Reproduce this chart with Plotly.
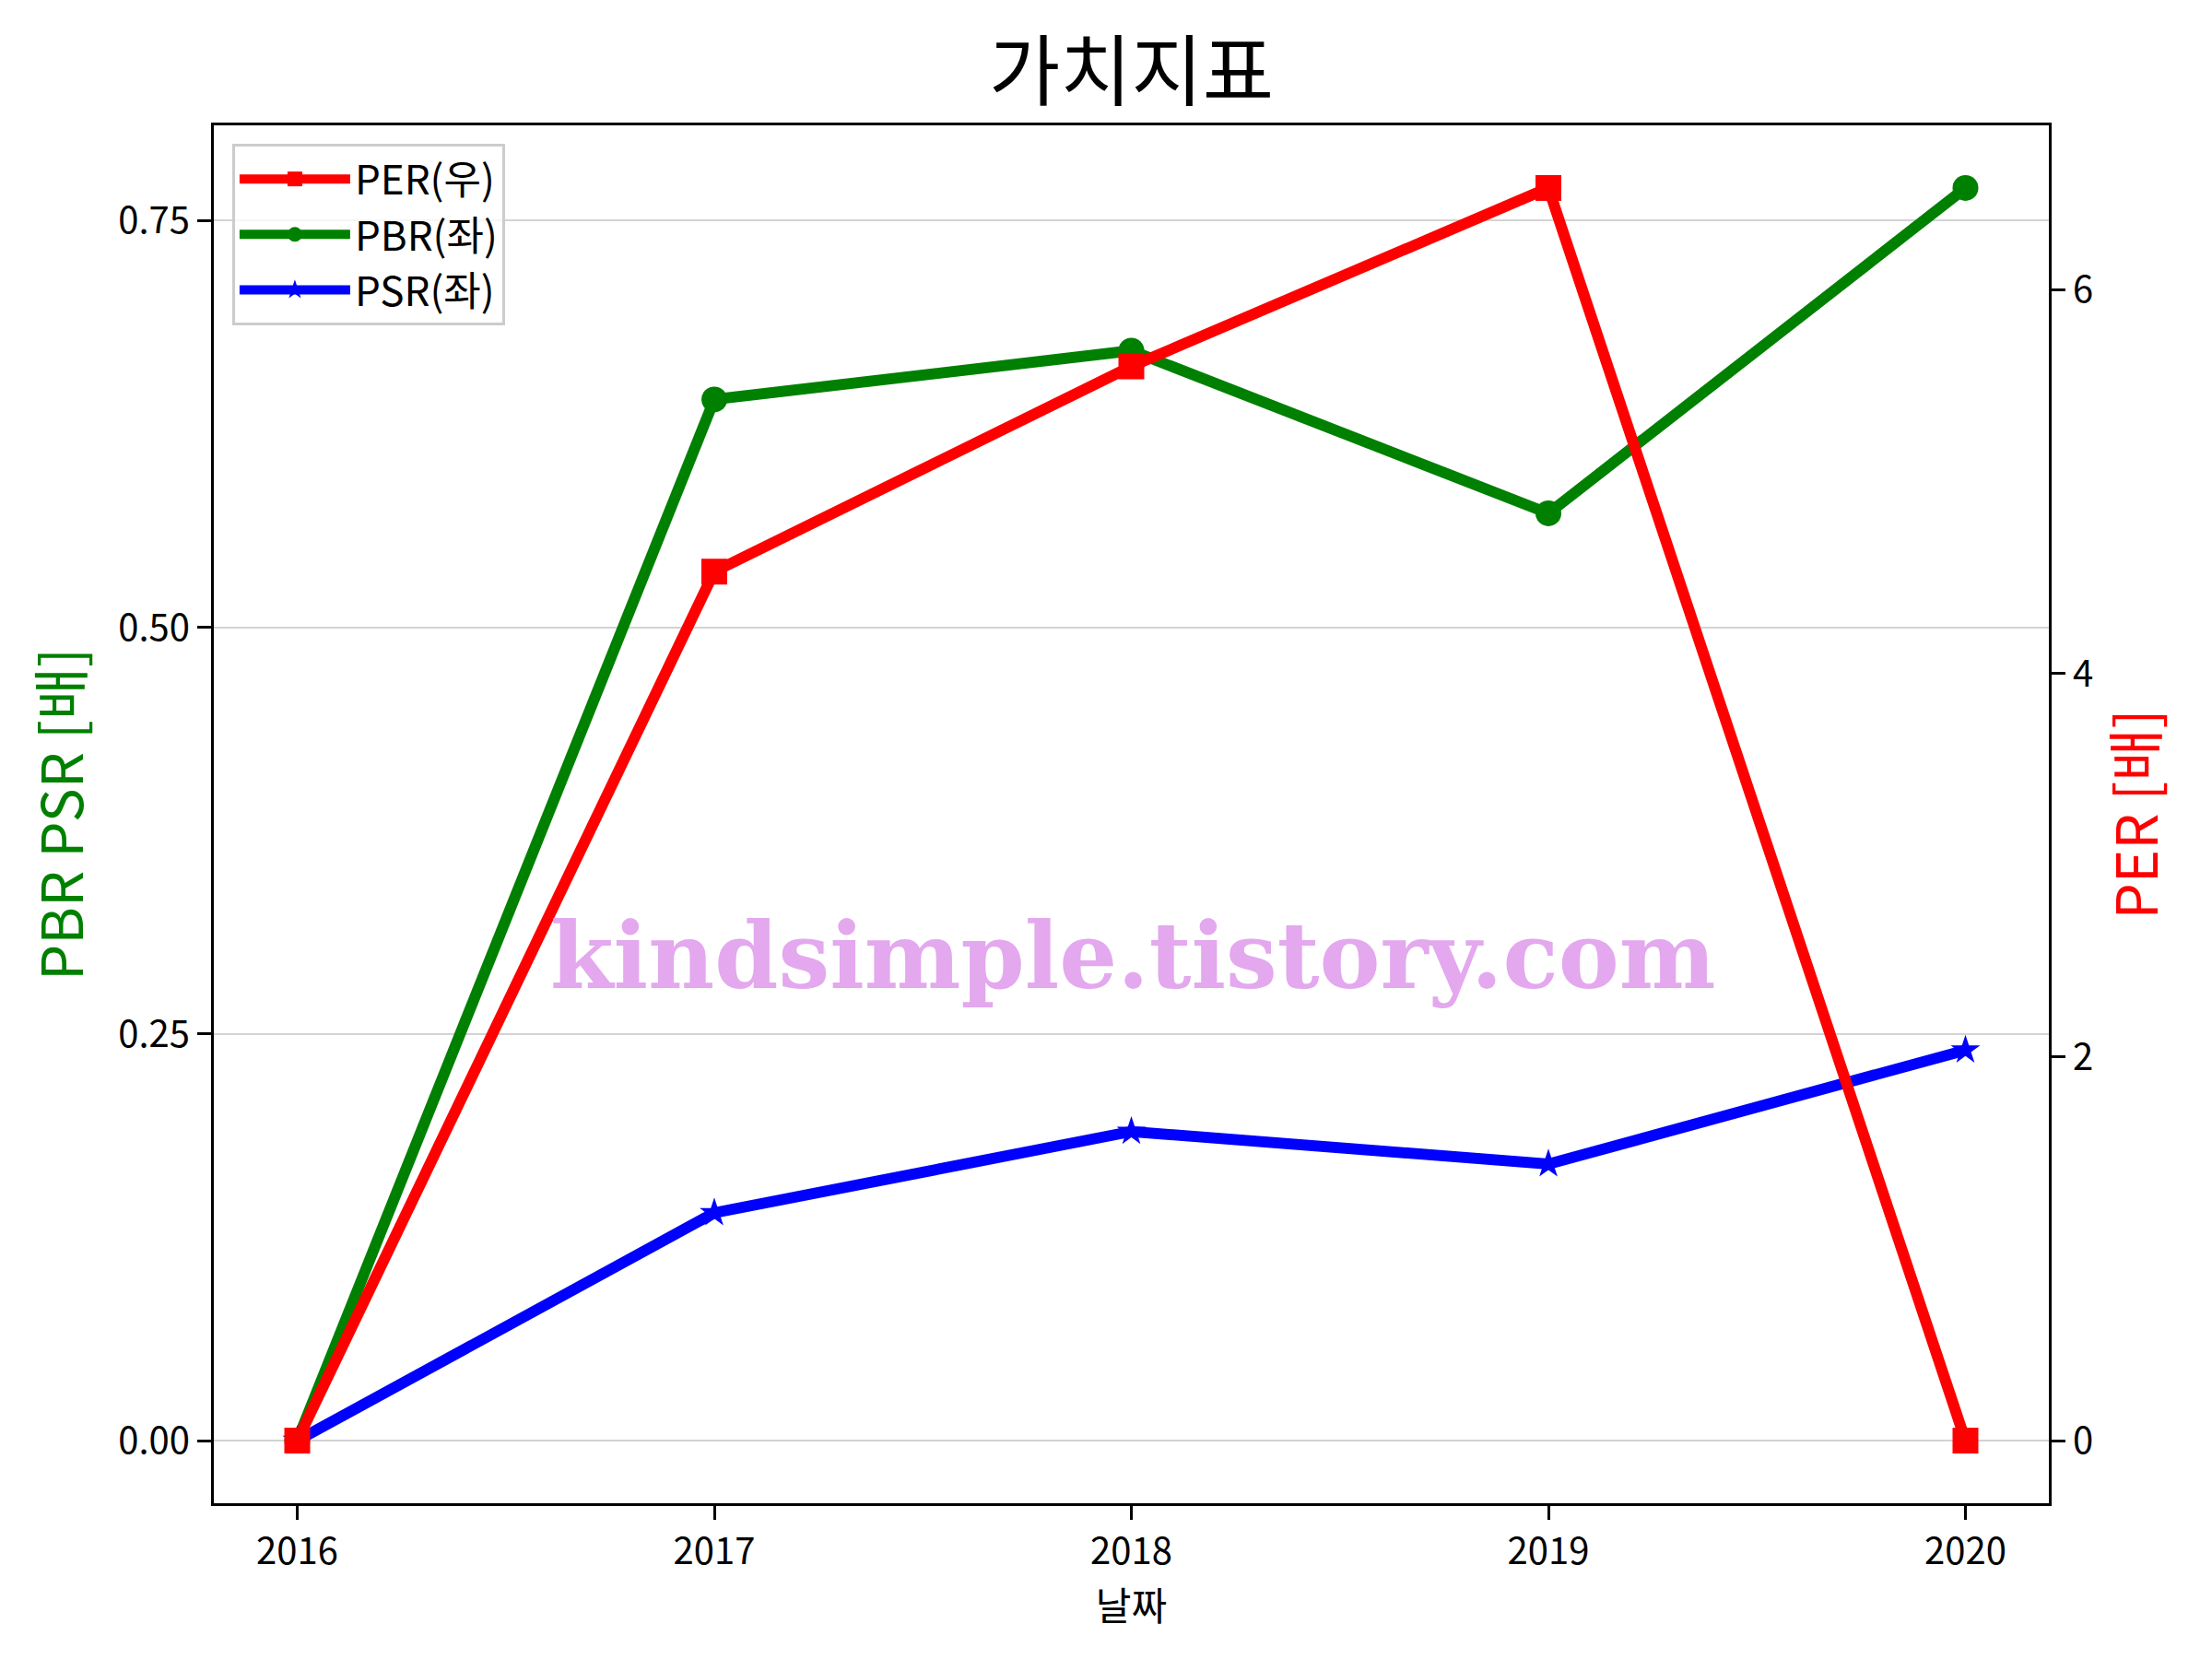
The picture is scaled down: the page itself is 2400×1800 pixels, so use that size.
import plotly.graph_objects as go

# 연도 / 가치지표 데이터
years = [2016, 2017, 2018, 2019, 2020]
per = [0.0, 4.53, 5.6, 6.53, 0.0]
pbr = [0.0, 0.64, 0.67, 0.57, 0.77]
psr = [0.0, 0.14, 0.19, 0.17, 0.24]

left_ticks = [0.0, 0.25, 0.5, 0.75]
right_ticks = [0, 2, 4, 6]

FONT = "Noto Sans CJK KR"
W, H = 2392, 1792  # 페이지 body 여백(8px) 보정

fig = go.Figure()

# PER 은 오른쪽 축 (좌축 위에 그려짐)
fig.add_trace(go.Scatter(
    x=years, y=per, name="PER(우)", mode="lines+markers", yaxis="y2",
    line=dict(color="#ff0000", width=12),
    marker=dict(symbol="square", size=28, color="#ff0000"),
))
fig.add_trace(go.Scatter(
    x=years, y=pbr, name="PBR(좌)", mode="lines+markers",
    line=dict(color="#008000", width=12),
    marker=dict(symbol="circle", size=28, color="#008000"),
))
fig.add_trace(go.Scatter(
    x=years, y=psr, name="PSR(좌)", mode="lines+markers",
    line=dict(color="#0000ff", width=12),
    marker=dict(symbol="star", size=24, color="#0000ff"),
))

ymax_l = max(pbr + psr)
ymax_r = max(per)

fig.update_layout(
    width=W, height=H,
    margin=dict(l=224, r=177, t=128, b=169),
    paper_bgcolor="white", plot_bgcolor="white",
    font=dict(family=FONT, size=40, color="black"),
    title=dict(text="가치지표", x=0.5, xref="paper", xanchor="center",
               y=1 - 71 / H, yanchor="middle",
               font=dict(family=FONT, size=84, color="black")),
    showlegend=True,
    legend=dict(x=0.01, y=0.9866, xanchor="left", yanchor="top",
                bgcolor="rgba(255,255,255,0.8)", bordercolor="#cccccc",
                borderwidth=3, font=dict(family=FONT, size=44),
                itemwidth=120, traceorder="normal"),
    xaxis=dict(
        range=[2015.8, 2020.2], tickvals=years, ticktext=[str(y) for y in years],
        showgrid=False, zeroline=False,
        showline=True, linecolor="black", linewidth=3, mirror=True,
        ticks="outside", ticklen=15, tickwidth=3, tickcolor="black",
        ticklabelstandoff=0,
        title=dict(text="날짜", font=dict(family=FONT, size=42), standoff=3),
    ),
    yaxis=dict(
        range=[-0.05 * ymax_l, 1.05 * ymax_l], tickvals=left_ticks,
        tickformat=".2f",
        showgrid=True, gridcolor="#d3d3d3", gridwidth=2, zeroline=False,
        showline=True, linecolor="black", linewidth=3,
        ticks="outside", ticklen=15, tickwidth=3, tickcolor="black",
        title=dict(text="PBR PSR [배]", font=dict(family=FONT, size=62, color="#008000"),
                   standoff=18),
    ),
    yaxis2=dict(
        range=[-0.05 * ymax_r, 1.05 * ymax_r], tickvals=right_ticks,
        overlaying="y", side="right",
        showgrid=False, zeroline=False,
        showline=True, linecolor="black", linewidth=3,
        ticks="outside", ticklen=15, tickwidth=3, tickcolor="black",
        title=dict(text="PER [배]", font=dict(family=FONT, size=62, color="#ff0000"),
                   standoff=28),
    ),
)

# 워터마크
fig.add_annotation(
    text="<b>kindsimple.tistory.com</b>", xref="paper", yref="paper",
    x=0.501, y=0.397, xanchor="center", yanchor="middle", showarrow=False,
    font=dict(family="DejaVu Serif", size=99, color="#e3a8ee"),
)

fig.write_html("out.html")
